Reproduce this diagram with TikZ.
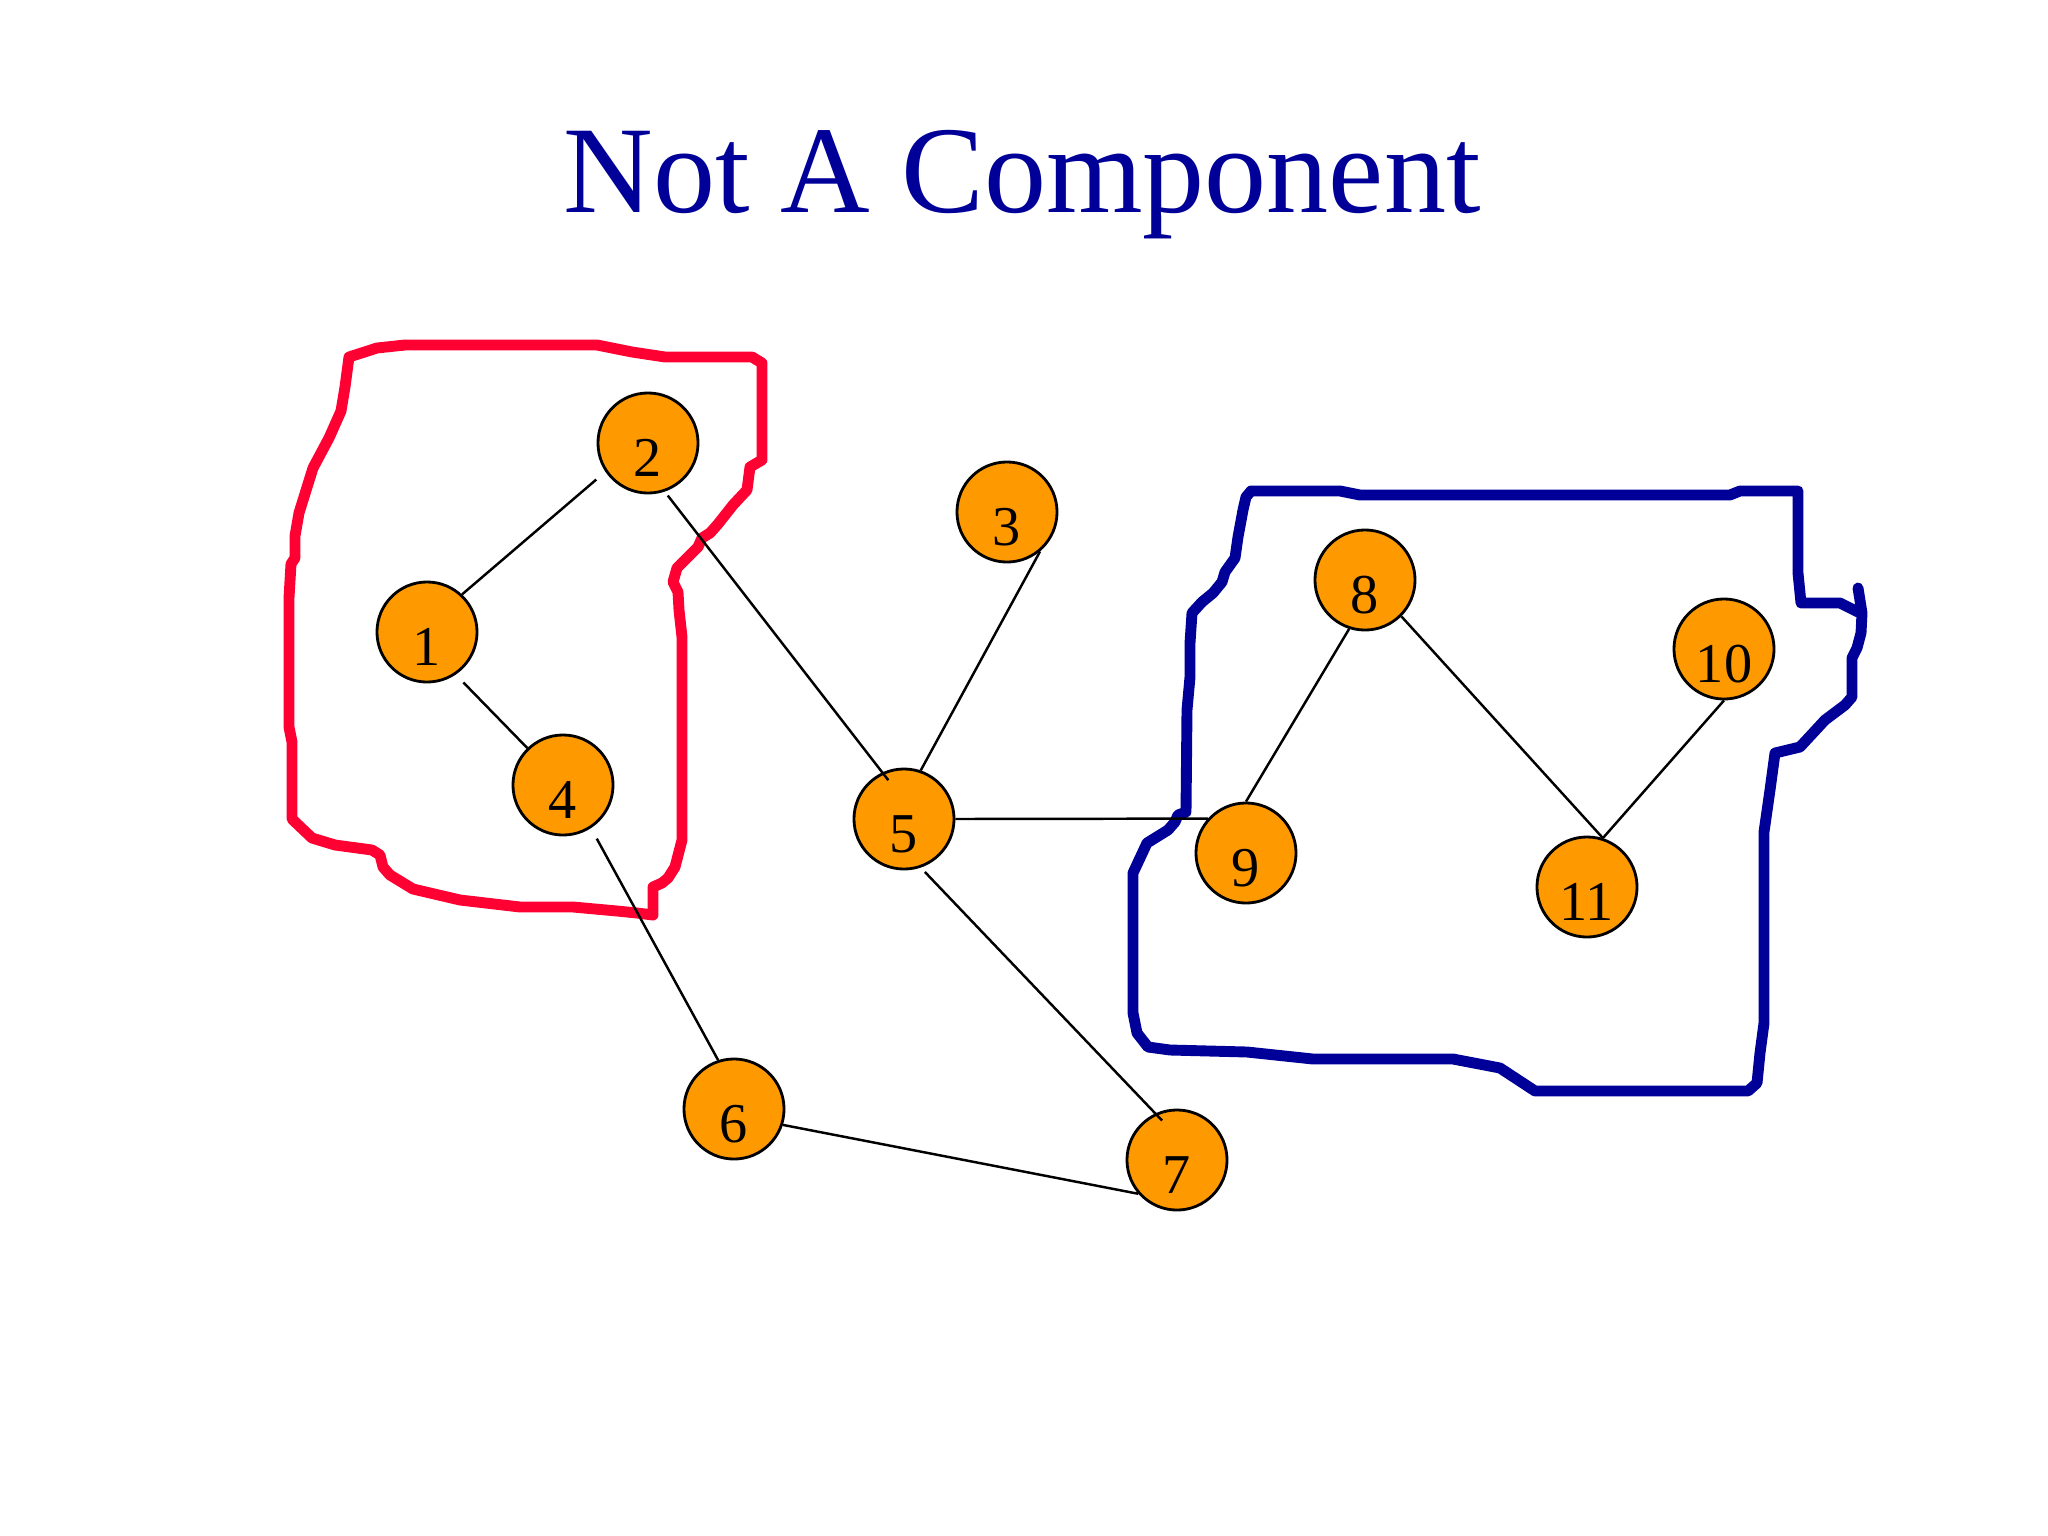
\documentclass[tikz,border=0pt]{standalone}
\usepackage{fontspec}
\setmainfont{Liberation Serif}
\definecolor{ttlblue}{RGB}{0,0,153}
\definecolor{hullred}{RGB}{255,0,51}
\definecolor{vorange}{RGB}{255,153,0}
\begin{document}
\begin{tikzpicture}[x=0.01cm,y=-0.01cm,
  vertex/.style={circle,draw=black,line width=0.8pt,fill=vorange,minimum size=1cm,inner sep=0pt,text height=19.3pt,text depth=0pt,font=\fontsize{16}{16}\selectfont},
  edge/.style={line width=0.7pt,draw=black},
  redhull/.style={draw=hullred,line width=3.1pt,line join=round,line cap=round},
  bluehull/.style={draw=ttlblue,line width=3.1pt,line join=round,line cap=round},
  titletext/.style={font=\fontsize{35.3}{40}\selectfont,text=ttlblue,anchor=base,inner sep=0pt}]
\useasboundingbox (0,0) rectangle (2048,1536);

\node[titletext] (title) at (1022,212) {Not A Component};

% red hull
\draw[redhull] (349,357) -- (377,348) -- (405,345) -- (597,345) -- (632,352) -- (665,357) -- (752,357) -- (762,363) -- (762,460) -- (750,467) -- (747,490) -- (733,505) -- (718,524) -- (710,533) -- (702,538) -- (698,547) -- (677,568) -- (673,582) -- (678,592) -- (679,610) -- (682,637) -- (682,840) -- (675,867) -- (668,878) -- (662,883) -- (653,887) -- (653,915) -- (637,913) -- (617,911) -- (573,907) -- (520,907) -- (460,900) -- (413,889) -- (390,875) -- (383,867) -- (380,855) -- (372,850) -- (335,845) -- (312,838) -- (292,819) -- (292,742) -- (289,727) -- (289,598) -- (291,564) -- (295,558) -- (295,536) -- (299,513) -- (313,468) -- (329,438) -- (341,411) -- (345,387) -- cycle;

% blue hull
\draw[bluehull] (1858,588) -- (1862,613) -- (1861,633) -- (1857,648) -- (1852,658) -- (1852,697) -- (1845,705) -- (1825,720) -- (1800,747) -- (1775,753) -- (1770,790) -- (1764,832) -- (1764,1023) -- (1760,1053) -- (1757,1083) -- (1748,1091) -- (1535,1091) -- (1500,1068) -- (1453,1059) -- (1313,1059) -- (1247,1052) -- (1170,1050) -- (1148,1047) -- (1137,1033) -- (1133,1013) -- (1133,873) -- (1147,843) -- (1168,830) -- (1175,822) -- (1178,815) -- (1186,812) -- (1187,710) -- (1190,677) -- (1190,643) -- (1192,613) -- (1202,602) -- (1213,593) -- (1222,582) -- (1225,572) -- (1235,558) -- (1238,537) -- (1243,510) -- (1246,497) -- (1251,491) -- (1340,491) -- (1360,495) -- (1730,495) -- (1740,491) -- (1798,491) -- (1798,573) -- (1801,603) -- (1840,603) -- (1858,612);

% vertices
\node[vertex] (n1) at (427,632) {1};
\node[vertex] (n2) at (648,443) {2};
\node[vertex] (n3) at (1007,512) {3};
\node[vertex] (n4) at (563,785) {4};
\node[vertex] (n5) at (904,819) {5};
\node[vertex] (n6) at (734,1109) {6};
\node[vertex] (n7) at (1177,1160) {7};
\node[vertex] (n8) at (1365,580) {8};
\node[vertex] (n9) at (1246,853) {9};
\node[vertex] (n10) at (1724,649) {10};
\node[vertex] (n11) at (1587,887) {11};

% edges
\draw[edge,shorten >=3.4pt] (n1.47) -- (n2.214);
\draw[edge,shorten <=3.1pt] (n1.304) -- (n4.134);
\draw[edge,shorten <=1.4pt,shorten >=-2.8pt] (n2.289) -- (n5.115);
\draw[edge] (n3.310) -- (n5.71);
\draw[edge,shorten <=3.4pt] (n4.303) -- (n6.108);
\draw[edge] (n5.0) -- (n9.138);
\draw[edge,shorten <=1.7pt,shorten >=-2.8pt] (n5.289) -- (n7.115);
\draw[edge] (n6.342) -- (n7.221);
\draw[edge] (n8.252) -- (n9.90);
\draw[edge] (n8.315) -- (n11.72);
\draw[edge] (n10.270) -- (n11.72);
\end{tikzpicture}
\end{document}
